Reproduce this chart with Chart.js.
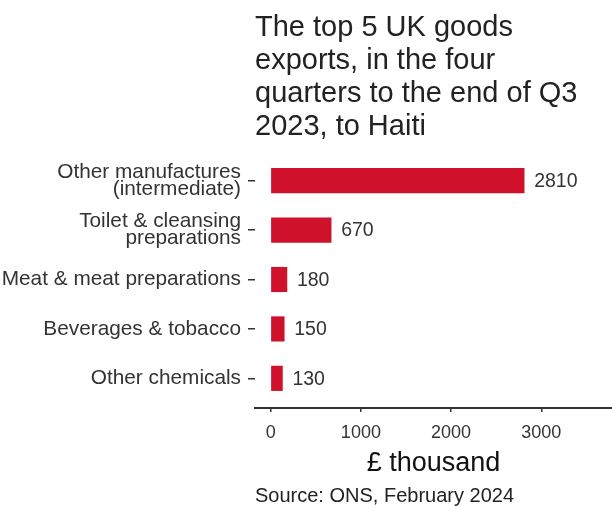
<!DOCTYPE html>
<html>
<head>
<meta charset="utf-8">
<script src="https://cdn.jsdelivr.net/npm/chart.js@4"></script>
<style>
  html, body { margin: 0; padding: 0; background: #fff; }
  #wrap { width: 612px; height: 506px; position: relative; }
</style>
</head>
<body>
<div id="wrap"><canvas id="exportsChart"></canvas></div>
<script>
  // ---- DATA ----
  const categories = [
    ['Other manufactures', '(intermediate)'],
    ['Toilet & cleansing', 'preparations'],
    'Meat & meat preparations',
    'Beverages & tobacco',
    'Other chemicals'
  ];
  const values = [2810, 670, 180, 150, 130];
  const xTicks = [0, 1000, 2000, 3000];

  const titleLines = [
    'The top 5 UK goods',
    'exports, in the four',
    'quarters to the end of Q3',
    '2023, to Haiti'
  ];
  const axisTitle = '£ thousand';
  const sourceText = 'Source: ONS, February 2024';

  const FONT = "'Liberation Sans', Arial, sans-serif";
  const INK = '#333';

  // value labels at the end of each bar
  const barLabels = {
    id: 'barLabels',
    afterDatasetsDraw(chart) {
      const ctx = chart.ctx;
      const meta = chart.getDatasetMeta(0);
      ctx.save();
      ctx.font = '19.5px ' + FONT;
      ctx.fillStyle = INK;
      ctx.textAlign = 'left';
      ctx.textBaseline = 'middle';
      meta.data.forEach((bar, i) => {
        ctx.fillText(String(values[i]), bar.x + 10, bar.y + 1);
      });
      ctx.restore();
    }
  };

  const ctx = document.getElementById('exportsChart').getContext('2d');
  new Chart(ctx, {
    type: 'bar',
    data: {
      datasets: [{
        data: values.map((v, i) => ({ x: v, y: i + 1 })),
        backgroundColor: '#d0112b',
        barThickness: 24.5
      }]
    },
    plugins: [barLabels],
    options: {
      indexAxis: 'y',
      responsive: true,
      maintainAspectRatio: false,
      animation: false,
      layout: { padding: 0 },
      plugins: {
        legend: { display: false },
        tooltip: { enabled: false },
        title: {
          display: true,
          text: titleLines,
          align: 'start',
          fullSize: false,
          color: '#222',
          font: { family: FONT, size: 29, weight: 'normal', lineHeight: 33 / 29 },
          padding: { top: 11, bottom: 8 }
        },
        subtitle: {
          display: true,
          text: sourceText,
          position: 'bottom',
          align: 'start',
          fullSize: false,
          color: '#222',
          font: { family: FONT, size: 20, lineHeight: 1 },
          padding: { top: 0, bottom: 0 }
        }
      },
      scales: {
        x: {
          type: 'linear',
          min: -174,
          max: 3784,
          afterBuildTicks: s => { s.ticks = xTicks.map(v => ({ value: v })); },
          afterFit: s => { s.height = 78; },
          border: { display: true, color: INK, width: 2 },
          grid: { drawOnChartArea: false, drawTicks: true, tickLength: 4, color: INK, lineWidth: 1.5 },
          ticks: {
            color: INK,
            padding: 10,
            font: { family: FONT, size: 18 },
            callback: v => String(v)
          },
          title: {
            display: true,
            text: axisTitle,
            color: '#111',
            font: { family: FONT, size: 27 },
            padding: { top: 0, bottom: 6 }
          }
        },
        y: {
          type: 'linear',
          min: 0.4,
          max: 5.6,
          reverse: true,
          offset: false,
          afterBuildTicks: s => { s.ticks = categories.map((c, i) => ({ value: i + 1 })); },
          afterFit: s => { s.width = 255; },
          border: { display: false },
          grid: { offset: false, drawOnChartArea: false, drawTicks: true, tickLength: 7, color: INK, lineWidth: 1.5 },
          ticks: {
            color: INK,
            padding: 7,
            font: { family: FONT, size: 20.8, lineHeight: 0.8 },
            callback: v => categories[v - 1]
          }
        }
      }
    }
  });
</script>
</body>
</html>
